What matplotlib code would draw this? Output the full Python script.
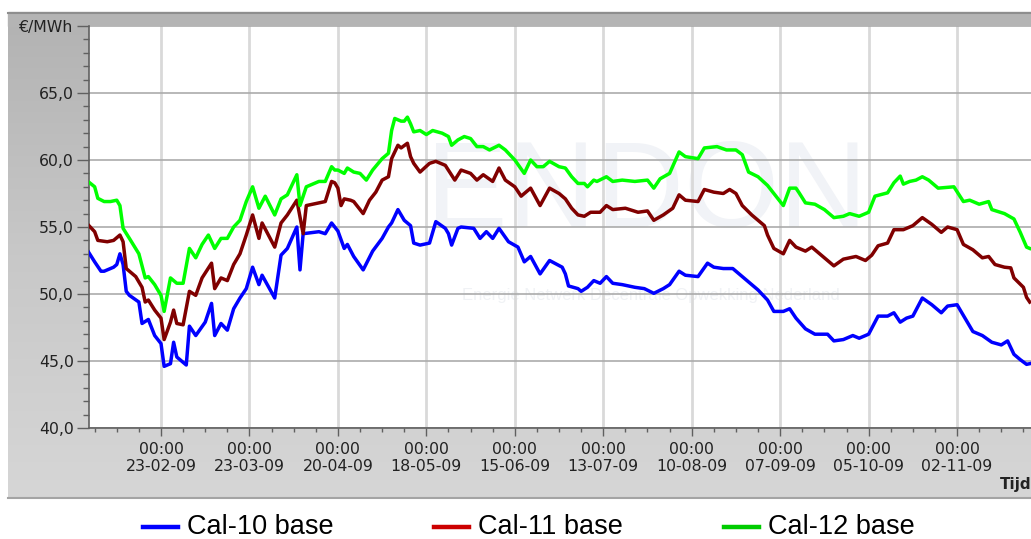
import numpy as np
import matplotlib
matplotlib.use("Agg")
import matplotlib.pyplot as plt
import matplotlib.dates as mdates
from matplotlib.lines import Line2D
from matplotlib.patches import Rectangle
from matplotlib.colors import LinearSegmentedColormap
from matplotlib.ticker import FixedLocator, FixedFormatter

# ---------------- data (days relative to 23-02-2009, price in EUR/MWh) ----------------
cal10_days = [-23, -21, -19, -18, -15, -14, -13, -12, -11, -10, -7, -6, -4, -2, 0, 1, 3, 4, 5, 8,
              9, 11, 14, 16, 17, 19, 21, 23, 25, 27, 29, 31, 32, 36, 38, 40, 43, 44, 45, 50,
              52, 54, 55, 56, 58, 59, 61, 64, 67, 70, 72, 73, 75, 77, 79, 80, 82, 85, 87, 90,
              91, 92, 94, 95, 99, 101, 103, 105, 107, 110, 113, 115, 117, 120, 123, 127, 128, 129, 132, 133,
              135, 137, 139, 141, 143, 146, 150, 153, 156, 159, 161, 164, 166, 170, 173, 175, 178, 181, 182, 186,
              189, 192, 194, 197, 199, 201, 204, 207, 211, 213, 216, 219, 221, 224, 227, 230, 232, 234, 236, 238,
              241, 244, 247, 249, 252, 255, 257, 260, 263, 266, 268, 270, 272, 274, 275]
cal10_vals = [53.15, 52.4, 51.7, 51.7, 52.0, 52.2, 53.0, 52.2, 50.2, 49.9, 49.4, 47.8, 48.1, 46.9, 46.3, 44.6, 44.8, 46.4, 45.3, 44.7,
              47.6, 46.9, 47.9, 49.3, 46.9, 47.8, 47.3, 48.9, 49.7, 50.4, 52.0, 50.7, 51.4, 49.7, 52.9, 53.4, 55.0, 51.8, 54.5, 54.65,
              54.5, 55.3, 55.0, 54.7, 53.4, 53.7, 52.8, 51.8, 53.2, 54.15, 55.0, 55.3, 56.3, 55.5, 55.1, 53.8, 53.65, 53.8, 55.4, 54.9,
              54.5, 53.65, 54.9, 55.0, 54.9, 54.15, 54.65, 54.15, 54.9, 53.9, 53.5, 52.4, 52.8, 51.5, 52.5, 52.0, 51.5, 50.6, 50.4, 50.2,
              50.5, 51.0, 50.8, 51.3, 50.8, 50.7, 50.5, 50.4, 50.05, 50.4, 50.7, 51.7, 51.4, 51.3, 52.3, 52.0, 51.9, 51.9, 51.7, 50.9,
              50.3, 49.55, 48.7, 48.7, 48.9, 48.2, 47.4, 47.0, 47.0, 46.5, 46.6, 46.9, 46.7, 47.0, 48.35, 48.35, 48.6, 47.9, 48.2, 48.35,
              49.7, 49.2, 48.6, 49.1, 49.2, 48.0, 47.2, 46.9, 46.4, 46.2, 46.5, 45.5, 45.1, 44.75, 44.8]

cal11_days = [-23, -21, -20, -17, -15, -13, -12, -11, -8, -6, -5, -4, -2, 0, 1, 3, 4, 5, 7, 9,
              11, 13, 16, 17, 19, 21, 23, 25, 27, 29, 31, 32, 36, 38, 40, 43, 45, 46, 50, 52,
              54, 55, 56, 57, 58, 60, 61, 64, 66, 68, 70, 72, 73, 75, 76, 78, 79, 80, 82, 85,
              87, 90, 93, 95, 98, 100, 102, 105, 107, 109, 112, 114, 117, 120, 123, 126, 128, 130, 132, 134,
              136, 139, 141, 143, 147, 151, 154, 156, 159, 162, 164, 166, 170, 172, 175, 178, 180, 182, 184, 187,
              191, 192, 194, 197, 199, 201, 204, 206, 209, 211, 213, 216, 220, 223, 225, 227, 230, 232, 235, 238,
              241, 244, 247, 249, 252, 254, 257, 260, 262, 264, 267, 269, 270, 273, 274, 275]
cal11_vals = [55.15, 54.65, 54.0, 53.9, 54.0, 54.4, 53.9, 51.9, 51.3, 50.5, 49.4, 49.55, 48.8, 48.2, 46.6, 47.9, 48.8, 47.8, 47.7, 50.2,
              49.9, 51.2, 52.3, 50.4, 51.2, 51.0, 52.2, 53.0, 54.4, 55.9, 54.15, 55.3, 53.5, 55.3, 55.9, 57.0, 54.5, 56.6, 56.8, 56.9,
              58.4, 58.3, 57.9, 56.6, 57.1, 57.0, 56.9, 56.0, 57.0, 57.6, 58.5, 58.75, 60.1, 61.1, 60.9, 61.25, 60.25, 59.75, 59.1, 59.75,
              59.9, 59.6, 58.5, 59.25, 59.0, 58.5, 58.9, 58.4, 59.4, 58.5, 58.0, 57.3, 57.9, 56.6, 57.9, 57.5, 57.1, 56.4, 55.9, 55.8,
              56.1, 56.1, 56.6, 56.3, 56.4, 56.1, 56.2, 55.5, 55.9, 56.4, 57.4, 57.0, 56.9, 57.8, 57.6, 57.5, 57.8, 57.5, 56.6, 55.9,
              55.1, 54.4, 53.4, 53.0, 54.0, 53.5, 53.2, 53.5, 52.9, 52.5, 52.1, 52.6, 52.8, 52.5, 52.9, 53.6, 53.8, 54.8, 54.8, 55.1,
              55.7, 55.2, 54.6, 55.0, 54.8, 53.7, 53.3, 52.7, 52.8, 52.2, 52.0, 51.95, 51.2, 50.5, 49.75, 49.4]

cal12_days = [-23, -21, -20, -18, -16, -14, -13, -12, -10, -7, -5, -4, -2, 0, 1, 3, 5, 7, 9, 11,
              13, 15, 17, 19, 21, 23, 25, 27, 29, 31, 33, 36, 38, 40, 43, 44, 46, 50, 52, 54,
              55, 56, 58, 59, 61, 63, 65, 67, 70, 72, 73, 74, 76, 77, 78, 79, 80, 82, 84, 86,
              89, 91, 92, 94, 96, 98, 100, 102, 104, 107, 109, 112, 115, 117, 119, 121, 123, 126, 128, 130,
              132, 134, 135, 137, 138, 141, 143, 146, 150, 154, 156, 158, 161, 164, 166, 170, 172, 176, 179, 182,
              184, 186, 189, 192, 194, 197, 199, 201, 202, 204, 207, 210, 213, 216, 218, 221, 224, 226, 230, 232,
              234, 235, 237, 239, 241, 243, 246, 251, 254, 256, 259, 262, 263, 267, 270, 272, 274, 275]
cal12_vals = [58.38, 58.0, 57.14, 56.9, 56.9, 57.0, 56.6, 54.9, 54.15, 53.0, 51.2, 51.3, 50.7, 49.9, 48.7, 51.2, 50.8, 50.8, 53.4, 52.7,
              53.7, 54.4, 53.4, 54.15, 54.15, 55.0, 55.5, 56.9, 58.0, 56.4, 57.3, 55.9, 57.1, 57.4, 58.9, 56.6, 58.0, 58.4, 58.4, 59.5,
              59.25, 59.25, 59.0, 59.4, 59.1, 59.0, 58.5, 59.25, 60.1, 60.5, 62.2, 63.1, 62.9, 62.9, 63.2, 62.7, 62.1, 62.2, 61.9, 62.2,
              62.0, 61.75, 61.1, 61.5, 61.75, 61.6, 61.0, 61.0, 60.75, 61.1, 60.75, 60.0, 59.0, 60.0, 59.5, 59.5, 59.9, 59.5, 59.4, 58.75,
              58.25, 58.25, 58.0, 58.5, 58.4, 58.75, 58.4, 58.5, 58.4, 58.5, 57.9, 58.6, 59.0, 60.6, 60.25, 60.1, 60.9, 61.0, 60.75, 60.75,
              60.4, 59.1, 58.75, 58.1, 57.5, 56.6, 57.9, 57.9, 57.55, 56.8, 56.7, 56.3, 55.7, 55.8, 56.0, 55.8, 56.1, 57.3, 57.55, 58.3,
              58.8, 58.2, 58.4, 58.5, 58.75, 58.5, 57.9, 58.0, 56.9, 57.0, 56.7, 56.9, 56.3, 56.0, 55.6, 54.6, 53.5, 53.4]

series_labels = ["Cal-10 base", "Cal-11 base", "Cal-12 base"]
x_tick_dates = ["23-02-09", "23-03-09", "20-04-09", "18-05-09", "15-06-09", "13-07-09",
                "10-08-09", "07-09-09", "05-10-09", "02-11-09"]
y_tick_values = [40, 45, 50, 55, 60, 65, 70]
y_tick_labels = ["40,0", "45,0", "50,0", "55,0", "60,0", "65,0", "€/MWh"]

# ---------------- style ----------------
line_colors = ["#0000ff", "#800000", "#00ff00"]
legend_colors = ["#0000ff", "#cc0000", "#00cc00"]

W, H = 1031, 539
fig = plt.figure(figsize=(W / 100, H / 100), dpi=100)
fig.patch.set_facecolor("white")


def fx(px):
    return px / W


def fy(py):
    return 1 - py / H


# gray panel behind the chart
bg = fig.add_axes([fx(8), fy(498), 1 - fx(8), (498 - 12) / H], zorder=-2)
grad = np.linspace(0, 1, 256).reshape(-1, 1)
cmap = LinearSegmentedColormap.from_list("panel", ["#b2b2b2", "#c8c8c8", "#d6d6d6"])
bg.imshow(grad, aspect="auto", cmap=cmap, extent=[0, 1, 0, 1], origin="upper")
bg.set_axis_off()
fig.add_artist(Rectangle((fx(8), fy(26)), 1, 14 / H, transform=fig.transFigure,
                         color="#b4b4b4", zorder=-1))
fig.add_artist(Line2D([fx(8), 1], [fy(12.5)] * 2, transform=fig.transFigure,
                      color="#8e8e8e", lw=1.5, zorder=-0.5))
fig.add_artist(Line2D([fx(8), 1], [fy(497.5)] * 2, transform=fig.transFigure,
                      color="#a4a4a4", lw=1.5, zorder=-0.5))

ax = fig.add_axes([fx(89), fy(428), 1 - fx(89), (428 - 26) / H])
ax.set_facecolor("white")

base = np.datetime64("2009-02-23")
base_num = mdates.date2num(base)


def to_dates(days):
    return base + np.array(days).astype("timedelta64[D]")


series = [(cal10_days, cal10_vals), (cal11_days, cal11_vals), (cal12_days, cal12_vals)]
for (d, v), c in zip(series, line_colors):
    ax.plot(to_dates(d), v, color=c, lw=2.5, solid_joinstyle="round", zorder=3)

ax.set_xlim(base_num - 22.79, base_num + 275.4)
ax.set_ylim(40, 70)

# x ticks
major_nums = [mdates.date2num(np.datetime64("20" + s[6:8] + "-" + s[3:5] + "-" + s[0:2]))
              for s in x_tick_dates]
ax.xaxis.set_major_locator(FixedLocator(major_nums))
ax.xaxis.set_major_formatter(mdates.DateFormatter("%H:%M\n%d-%m-%y"))
minor_nums = np.arange(major_nums[0] - 28, base_num + 280, 7)
ax.xaxis.set_minor_locator(FixedLocator(minor_nums))

# y ticks
ax.yaxis.set_major_locator(FixedLocator(y_tick_values))
ax.yaxis.set_major_formatter(FixedFormatter(y_tick_labels))
ax.yaxis.set_minor_locator(FixedLocator(np.arange(40, 71, 1)))

ax.tick_params(axis="y", which="major", length=9, width=1, color="#606060",
               labelsize=11.3, labelcolor="#222222", pad=2)
ax.tick_params(axis="y", which="minor", length=4, width=1, color="#606060")
ax.tick_params(axis="x", which="major", length=6, width=1, color="#606060",
               labelsize=11.3, labelcolor="#222222", pad=4)
ax.tick_params(axis="x", which="minor", length=3, width=1, color="#606060")

ax.set_axisbelow(True)
ax.xaxis.grid(True, which="major", color="#d9d9d9", lw=2)
ax.yaxis.grid(True, which="major", color="#ababab", lw=1.2)

for s in ["top", "right"]:
    ax.spines[s].set_visible(False)
for s in ["left", "bottom"]:
    ax.spines[s].set_color("#606060")
    ax.spines[s].set_linewidth(1.2)

# very faint watermark
ax.text(0.592, 0.58, "ENDON", transform=ax.transAxes, ha="center", va="center",
        fontsize=88, family=["Liberation Sans"], color="#f1f3f7", zorder=0.3)
ax.text(0.597, 0.33, "Energie Netwerk Decentrale Opwekking Nederland", transform=ax.transAxes,
        ha="center", va="center", fontsize=12, family=["Liberation Sans"],
        color="#f0f2f5", zorder=0.3)

fig.text(fx(1000), fy(484), "Tijd", fontsize=11, fontweight="bold", color="#222222",
         ha="left", va="center")

# legend below the panel
for i, (lab, col) in enumerate(zip(series_labels, legend_colors)):
    x0 = 143 + i * 290.5
    fig.add_artist(Line2D([fx(x0), fx(x0 + 35)], [fy(527)] * 2, transform=fig.transFigure,
                          color=col, lw=3.2))
    fig.text(fx(x0 + 44), fy(527), lab, fontsize=19.5, family=["Liberation Sans"],
             color="black", ha="left", va="center")

fig.savefig("out.png", dpi=100)
